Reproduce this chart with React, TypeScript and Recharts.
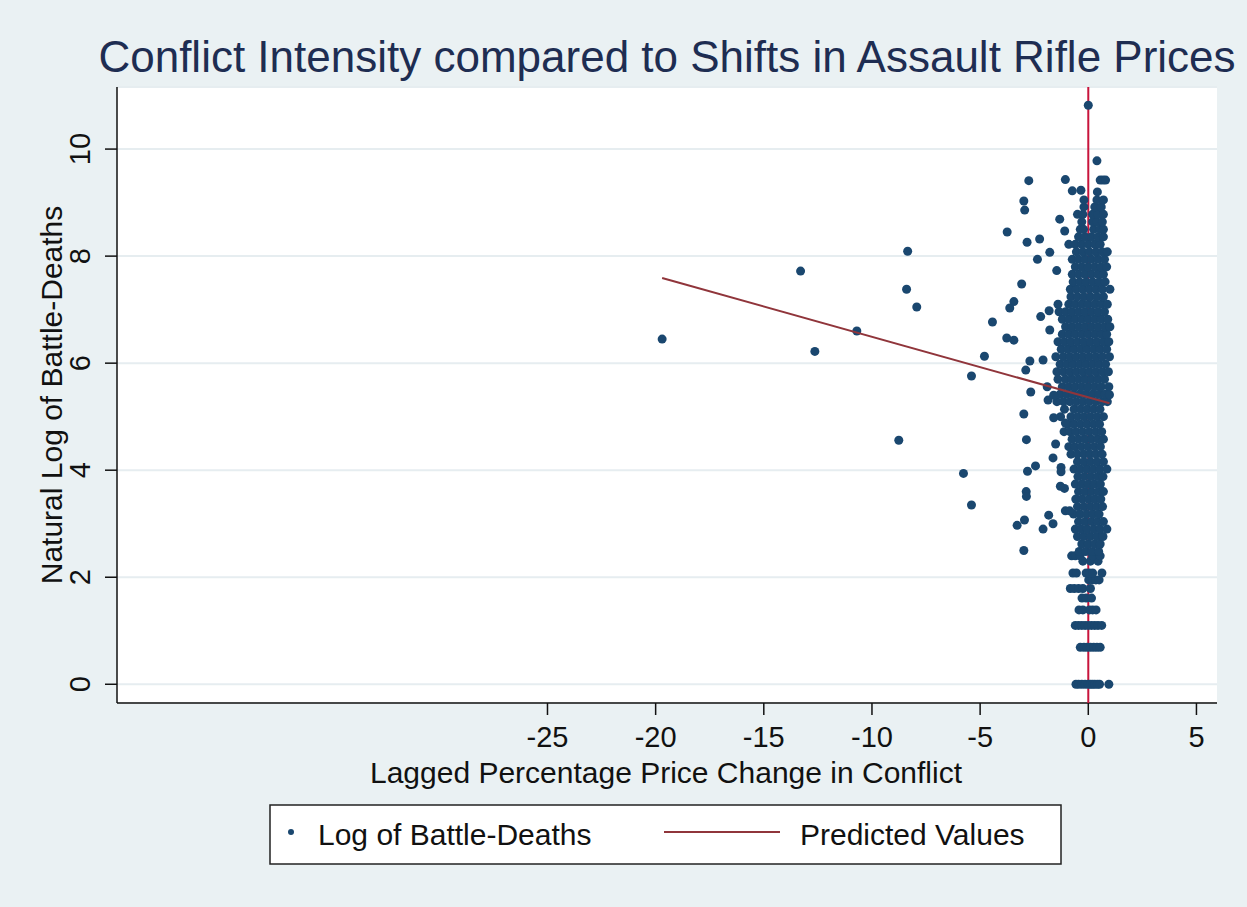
import React from "react";
import { ScatterChart, Scatter, XAxis, YAxis, CartesianGrid } from "recharts";

const xTicks = [-25, -20, -15, -10, -5, 0, 5];
const yTicks = [0, 2, 4, 6, 8, 10];
const xDomain: [number, number] = [-44.9, 5.95];
const yDomain: [number, number] = [-0.35, 11.16];

// small death counts land on fixed log levels (ln 1, ln 2, ...)
const countRows: [number, number[]][] = [
  [0, [-0.57, -0.45, -0.3, -0.15, 0, 0.1, 0.2, 0.3, 0.42, 0.52, 0.95]],
  [0.69, [-0.37, -0.2, -0.05, 0.1, 0.25, 0.4, 0.55]],
  [1.1, [-0.6, -0.45, -0.3, -0.15, 0, 0.15, 0.3, 0.45, 0.62]],
  [1.39, [-0.43, -0.25, 0.05, 0.2, 0.36]],
  [1.61, [-0.29, -0.1, 0.15]],
  [1.79, [-0.83, -0.65, -0.45, -0.25, 0.1]],
  [1.95, [0.02, 0.2, 0.35, 0.5]],
  [2.08, [-0.71, -0.55, -0.1, 0.05, 0.2, 0.63]],
  [2.3, [-0.25, 0.1, 0.45]],
  [2.4, [-0.77, -0.6, -0.38, 0.2, 0.55]],
];

// the dense band of observations around zero price change
const coreRows: [number, number[]][] = [
  [2.48, [-0.42, -0.12, 0.18, 0.48]],
  [2.62, [-0.3, 0.0, 0.3, 0.55]],
  [2.76, [-0.5, -0.2, 0.1, 0.4, 0.68]],
  [2.9, [-0.6, -0.32, -0.05, 0.25, 0.55, 0.86]],
  [3.04, [-0.45, -0.15, 0.15, 0.42, 0.7]],
  [3.18, [-0.68, -0.38, -0.08, 0.22, 0.5]],
  [3.32, [-0.5, -0.2, 0.1, 0.38, 0.66]],
  [3.46, [-0.58, -0.28, 0.02, 0.3, 0.58]],
  [3.6, [-0.45, -0.15, 0.15, 0.45, 0.7]],
  [3.74, [-0.6, -0.3, 0.0, 0.28, 0.56]],
  [3.88, [-0.48, -0.18, 0.12, 0.42, 0.68]],
  [4.02, [-0.66, -0.36, -0.06, 0.24, 0.54, 0.86]],
  [4.16, [-0.5, -0.2, 0.1, 0.4, 0.7]],
  [4.3, [-0.8, -0.5, -0.2, 0.08, 0.36, 0.64]],
  [4.44, [-0.9, -0.62, -0.32, -0.02, 0.28, 0.56]],
  [4.58, [-0.75, -0.45, -0.15, 0.15, 0.45, 0.7]],
  [4.72, [-1.12, -0.85, -0.56, -0.26, 0.04, 0.34, 0.62]],
  [4.86, [-0.95, -0.66, -0.36, -0.06, 0.24, 0.52]],
  [5.0, [-1.28, -0.8, -0.5, -0.2, 0.1, 0.4, 0.7]],
  [5.14, [-1.1, -0.66, -0.36, -0.06, 0.24, 0.54]],
  [5.28, [-1.45, -1.15, -0.85, -0.55, -0.25, 0.05, 0.35, 0.65, 0.88]],
  [5.42, [-1.3, -1.0, -0.7, -0.4, -0.1, 0.2, 0.5, 0.78]],
  [5.56, [-1.9, -1.2, -0.9, -0.6, -0.3, 0.0, 0.3, 0.6, 0.95]],
  [5.7, [-1.4, -1.05, -0.75, -0.45, -0.15, 0.15, 0.45, 0.75]],
  [5.84, [-1.45, -1.15, -0.85, -0.55, -0.25, 0.05, 0.35, 0.65, 0.93]],
  [5.98, [-1.3, -1.0, -0.7, -0.4, -0.1, 0.2, 0.5, 0.8]],
  [6.12, [-1.5, -1.15, -0.85, -0.55, -0.25, 0.05, 0.35, 0.65, 0.98]],
  [6.26, [-1.25, -0.95, -0.65, -0.35, -0.05, 0.25, 0.55, 0.85]],
  [6.4, [-1.4, -1.1, -0.8, -0.5, -0.2, 0.1, 0.4, 0.7, 0.95]],
  [6.54, [-1.2, -0.9, -0.6, -0.3, 0.0, 0.3, 0.6, 0.85]],
  [6.68, [-1.05, -0.75, -0.45, -0.15, 0.15, 0.45, 0.75, 1.0]],
  [6.82, [-1.2, -0.9, -0.6, -0.3, 0.0, 0.3, 0.6, 0.9]],
  [6.96, [-1.35, -1.05, -0.75, -0.45, -0.15, 0.15, 0.45, 0.75]],
  [7.1, [-1.4, -0.9, -0.6, -0.3, 0.0, 0.3, 0.6, 0.88]],
  [7.24, [-0.8, -0.5, -0.2, 0.1, 0.4, 0.7]],
  [7.38, [-0.83, -0.55, -0.25, 0.05, 0.35, 0.65, 1.0]],
  [7.52, [-0.7, -0.4, -0.1, 0.2, 0.5, 0.78]],
  [7.66, [-0.74, -0.45, -0.15, 0.15, 0.45, 0.7]],
  [7.8, [-0.6, -0.3, 0.0, 0.3, 0.6, 0.85]],
  [7.94, [-0.74, -0.45, -0.15, 0.15, 0.45, 0.75]],
  [8.08, [-0.55, -0.25, 0.05, 0.35, 0.65, 0.88]],
  [8.22, [-0.9, -0.6, -0.3, 0.0, 0.3, 0.55]],
  [8.36, [-0.45, -0.15, 0.15, 0.45, 0.7]],
  [8.5, [-0.37, -0.22, 0.25, 0.55, 0.7]],
  [8.64, [-0.3, 0.2, 0.4, 0.65]],
  [8.78, [-0.5, -0.25, 0.2, 0.45, 0.7]],
  [8.92, [-0.2, 0.3, 0.6]],
  [9.05, [-0.2, 0.4, 0.7]],
  [9.2, [0.42]],
  [9.42, [0.55, 0.68, 0.8]],
];

// scattered conflicts away from the main band
const outliers: [number, number][] = [
  [-19.7, 6.45], [-13.3, 7.72], [-12.64, 6.22], [-10.7, 6.6], [-8.35, 8.09],
  [-8.4, 7.38], [-7.93, 7.05], [-8.76, 4.56], [-5.77, 3.94], [-5.4, 3.35],
  [-5.4, 5.76], [-4.8, 6.13], [-4.43, 6.77], [-3.75, 8.45], [-3.08, 7.48],
  [-3.44, 7.15], [-3.63, 7.03], [-3.77, 6.47], [-3.44, 6.43], [-2.75, 9.41],
  [-2.98, 9.03], [-2.94, 8.86], [-2.83, 8.26], [-2.25, 8.32], [-1.78, 8.07],
  [-2.35, 7.94], [-1.46, 7.73], [-2.2, 6.87], [-1.81, 6.98], [-1.78, 6.62],
  [-2.7, 6.04], [-2.89, 5.87], [-2.09, 6.06], [-2.66, 5.46], [-1.32, 8.69],
  [-1.09, 8.47], [-1.06, 9.43], [-0.74, 9.22], [-0.34, 9.23], [0, 10.82],
  [0.4, 9.78], [-2.98, 5.05], [-2.86, 4.57], [-2.81, 3.98], [-2.44, 4.08],
  [-2.87, 3.6], [-2.86, 3.51], [-2.95, 3.07], [-3.29, 2.97], [-2.98, 2.5],
  [-2.09, 2.9], [-1.83, 3.16], [-1.63, 3.0], [-1.6, 4.98], [-1.51, 4.49],
  [-1.63, 4.23], [-1.26, 4.05], [-1.26, 3.97], [-1.29, 3.7], [-1.1, 3.66],
  [-1.06, 3.24], [-0.86, 3.24], [-1.06, 4.88], [-1.86, 5.31], [-1.6, 5.4],
  [0.98, 5.41],
];

// fitted regression line end points
const fitX = [-19.7, 0.98];
const fitY = [7.59, 5.25];

const deaths = [...countRows, ...coreRows]
  .flatMap(([y, xs]) => xs.map((x) => ({ x, y })))
  .concat(outliers.map(([x, y]) => ({ x, y })));
const fitted = fitX.map((x, i) => ({ x, y: fitY[i] }));
const zeroLine = yDomain.map((y) => ({ x: 0, y }));

const W = 1247;
const H = 907;
const plotLeft = 117;
const plotTop = 87;
const plotRight = 1217;
const plotBottom = 703;

const font = '"Liberation Sans", Arial, Helvetica, sans-serif';
const navy = "#1a476f";
const maroon = "#90353b";
const bg = "#eaf1f3";

const XTick = (p: any) => (
  <text x={p.x} y={plotBottom + 44} textAnchor="middle" fontSize={29} fontFamily={font} fill="#111">
    {p.payload.value}
  </text>
);

const YTick = (p: any) => (
  <text
    transform={`translate(${plotLeft - 27}, ${p.y}) rotate(-90)`}
    textAnchor="middle"
    fontSize={29}
    fontFamily={font}
    fill="#111"
  >
    {p.payload.value}
  </text>
);

const Dot = (p: any) => <circle cx={p.cx} cy={p.cy} r={4.5} fill={navy} />;
const NoDot = () => <g />;

export default function App() {
  return (
    <div style={{ position: "absolute", left: 0, top: 0, width: W, height: H, background: bg }}>
      <ScatterChart
        width={W}
        height={H}
        margin={{ top: plotTop, right: W - plotRight, left: 0, bottom: 0 }}
      >
        <CartesianGrid fill="#ffffff" vertical={false} stroke="#e6edf0" strokeWidth={2} />
        <XAxis
          type="number"
          dataKey="x"
          domain={xDomain}
          ticks={xTicks}
          allowDataOverflow
          height={H - plotBottom}
          tickSize={12}
          tick={XTick}
          axisLine={{ stroke: "#111", strokeWidth: 1.5 }}
          tickLine={{ stroke: "#111", strokeWidth: 1.5 }}
        />
        <YAxis
          type="number"
          dataKey="y"
          domain={yDomain}
          ticks={yTicks}
          allowDataOverflow
          width={plotLeft}
          tickSize={12}
          tick={YTick}
          axisLine={{ stroke: "#111", strokeWidth: 1.5 }}
          tickLine={{ stroke: "#111", strokeWidth: 1.5 }}
        />
        <Scatter
          data={zeroLine}
          line={{ stroke: "#c8143c", strokeWidth: 2 }}
          shape={NoDot}
          isAnimationActive={false}
        />
        <Scatter data={deaths} shape={Dot} isAnimationActive={false} />
        <Scatter
          data={fitted}
          line={{ stroke: maroon, strokeWidth: 2 }}
          shape={NoDot}
          isAnimationActive={false}
        />
      </ScatterChart>
      <svg
        width={W}
        height={H}
        style={{ position: "absolute", left: 0, top: 0, pointerEvents: "none" }}
        fontFamily={font}
      >
        <text x={667} y={72} textAnchor="middle" fontSize={44} fill="#1e2d52">
          Conflict Intensity compared to Shifts in Assault Rifle Prices
        </text>
        <text x={666} y={783} textAnchor="middle" fontSize={30} fill="#111">
          Lagged Percentage Price Change in Conflict
        </text>
        <text transform="translate(62, 395) rotate(-90)" textAnchor="middle" fontSize={30} fill="#111">
          Natural Log of Battle-Deaths
        </text>
        <rect x={270} y={805} width={791} height={59} fill="#fff" stroke="#222" strokeWidth={1.5} />
        <circle cx={291} cy={832} r={3} fill={navy} />
        <text x={318} y={845} fontSize={30} fill="#111">Log of Battle-Deaths</text>
        <line x1={664} y1={832} x2={780} y2={832} stroke={maroon} strokeWidth={2} />
        <text x={800} y={845} fontSize={30} fill="#111">Predicted Values</text>
      </svg>
    </div>
  );
}
